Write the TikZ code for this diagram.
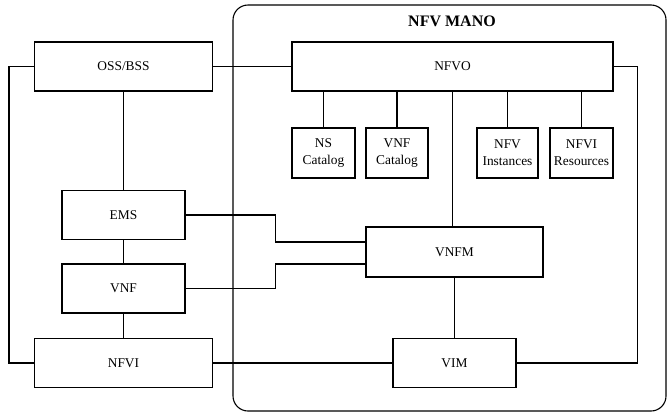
\documentclass[tikz,border=0pt]{standalone}
\usepackage{fontspec}
\setmainfont{Liberation Serif}
\begin{document}
\begin{tikzpicture}[x=1pt, y=-1pt, line width=1.1pt,
  box/.style={draw, inner sep=0pt, align=center, font=\fontsize{13.4}{17}\selectfont},
  wide/.style={box, minimum width=178pt, minimum height=49pt},
  mid/.style={box, minimum width=123pt, minimum height=49pt},
  store/.style={box, minimum width=62pt, minimum height=50pt},
  title/.style={font=\fontsize{16}{19}\selectfont\bfseries}]
\useasboundingbox (0,0) rectangle (668,413);

% management and orchestration frame
\node[draw, rounded corners=15pt, minimum width=433pt, minimum height=406pt, inner sep=0pt] (mano) at (449.5,208) {};
\node[title] (manotitle) at (452,21) {NFV MANO};

% left column
\node[wide] (oss) at (123.5,66.5) {OSS/BSS};
\node[mid] (ems) at (123.5,215) {EMS};
\node[mid] (vnf) at (123.5,288.5) {VNF};
\node[wide] (nfvi) at (123.5,363) {NFVI};

% orchestrator, managers and repositories
\node[box, minimum width=321pt, minimum height=49pt] (nfvo) at (452.5,66.5) {NFVO};
\node[store, minimum width=63pt] (nscat) at (323.5,153) {NS\\Catalog};
\node[store] (vnfcat) at (397,153) {VNF\\Catalog};
\node[store, minimum width=61pt] (inst) at (507.5,153) {NFV\\Instances};
\node[store, minimum width=63pt] (res) at (581.5,153) {NFVI\\Resources};
\node[box, minimum width=177pt, minimum height=50pt] (vnfm) at (454.5,252) {VNFM};
\node[mid] (vim) at (454.5,363) {VIM};

% links
\draw (oss.east) -- (nfvo.west);
\draw (oss.west) -- ++(-25,0) |- (nfvi.west);
\draw (oss.south) -- (ems.north);
\draw (ems.south) -- (vnf.north);
\draw (vnf.south) -- (nfvi.north);
\draw (ems.east) -- ++(90,0) |- ([yshift=10pt]vnfm.west);
\draw (vnf.east) -- ++(90,0) |- ([yshift=-12pt]vnfm.west);
\draw (nfvo.south) -- (nfvo.south |- vnfm.north);
\draw (vnfm.south) -- (vim.north);
\draw (nfvi.east) -- (vim.west);
\draw (vim.east) -| ([xshift=24pt]nfvo.east) -- (nfvo.east);
\foreach \s in {nscat,vnfcat,inst,res}
  \draw (\s.north) -- (\s.north |- nfvo.south);
\end{tikzpicture}
\end{document}
